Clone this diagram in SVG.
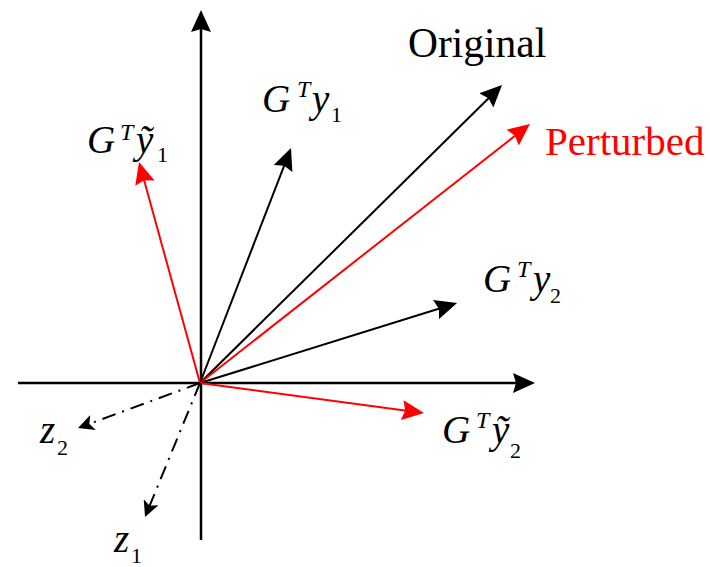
<svg xmlns="http://www.w3.org/2000/svg" width="710" height="567" viewBox="0 0 710 567">
<style>
.ax{stroke:#000;stroke-width:2.5;fill:none}
.k{stroke:#000;stroke-width:2;fill:none}
.r{stroke:#f00;stroke-width:2;fill:none}
.dd{stroke:#000;stroke-width:2;fill:none;stroke-dasharray:14 7 2 7}
.it{font-style:italic}
</style>
<defs>
<marker id="hk" markerUnits="userSpaceOnUse" viewBox="0 0 22 20" refX="12" refY="10" markerWidth="22" markerHeight="20" orient="auto"><path d="M0,0 L22,10 L0,20 L3,10 z" fill="#000"/></marker>
<marker id="hr" markerUnits="userSpaceOnUse" viewBox="0 0 22 20" refX="12" refY="10" markerWidth="22" markerHeight="20" orient="auto"><path d="M0,0 L22,10 L0,20 L3,10 z" fill="#f00"/></marker>
<marker id="hz" markerUnits="userSpaceOnUse" viewBox="0 0 16 16" refX="9" refY="8" markerWidth="16" markerHeight="16" orient="auto"><path d="M0,0 L16,8 L0,16 L4,8 z" fill="#000"/></marker>
</defs>
<g id="connectors">
<line class="ax" x1="201" y1="540" x2="201" y2="20" marker-end="url(#hk)"/>
<line class="ax" x1="18" y1="383" x2="525" y2="383" marker-end="url(#hk)"/>
<line class="k" x1="200" y1="383" x2="494.9" y2="92" marker-end="url(#hk)"/>
<line class="r" x1="200" y1="383" x2="522.1" y2="130.2" marker-end="url(#hr)"/>
<line class="k" x1="200" y1="383" x2="287.4" y2="157.3" marker-end="url(#hk)"/>
<line class="r" x1="200" y1="383" x2="141.7" y2="171.6" marker-end="url(#hr)"/>
<line class="k" x1="200" y1="383" x2="447.5" y2="306" marker-end="url(#hk)"/>
<line class="r" x1="200" y1="383" x2="414.1" y2="411.7" marker-end="url(#hr)"/>
<line class="dd" x1="200" y1="383" x2="84.6" y2="425.6" marker-end="url(#hz)"/>
<line class="dd" x1="200" y1="383" x2="147.7" y2="510.5" marker-end="url(#hz)"/>
</g>
<g font-family="Liberation Serif, Times New Roman, DejaVu Serif, serif">
<g id="original"><text x="408" y="57" font-size="41.5">Original</text></g>
<g id="perturbed"><text x="545" y="155" font-size="41" fill="#f00">Perturbed</text></g>
<g id="gty1"><text x="262" y="112" font-size="39" class="it">G</text><text x="297" y="97" font-size="24" class="it">T</text><text x="312" y="112" font-size="39" class="it">y</text><text x="331" y="122" font-size="22">1</text></g>
<g id="gtyt1"><text x="87" y="153" font-size="39" class="it">G</text><text x="120" y="140" font-size="24" class="it">T</text><text x="136" y="153" font-size="39" class="it">ỹ</text><text x="157" y="162" font-size="22">1</text></g>
<g id="gty2"><text x="483" y="292" font-size="39" class="it">G</text><text x="517" y="277" font-size="24" class="it">T</text><text x="533" y="292" font-size="39" class="it">y</text><text x="550" y="303" font-size="22">2</text></g>
<g id="gtyt2"><text x="442" y="443" font-size="39" class="it">G</text><text x="476" y="428" font-size="24" class="it">T</text><text x="492" y="443" font-size="39" class="it">ỹ</text><text x="510" y="458" font-size="22">2</text></g>
<g id="z2"><text x="40" y="443" font-size="39" class="it">z</text><text x="57" y="455" font-size="22">2</text></g>
<g id="z1"><text x="114" y="552" font-size="39" class="it">z</text><text x="131" y="563" font-size="22">1</text></g>
</g>
</svg>
